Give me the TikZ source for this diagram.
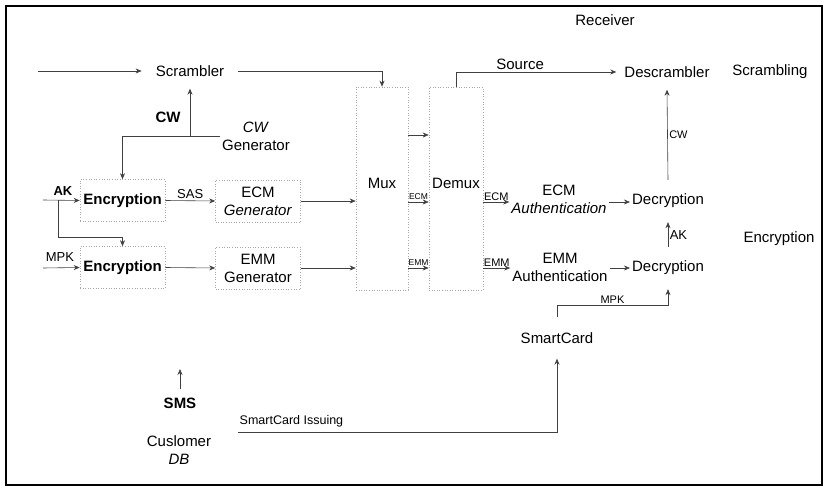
\documentclass[tikz,border=0pt]{standalone}
\usepackage{fontspec}
\setmainfont{Liberation Sans}
\usetikzlibrary{arrows.meta}

\tikzset{
  txt/.style={font=\fontsize{15}{18}\selectfont, align=center, inner sep=2pt},
  key/.style={font=\fontsize{11}{13}\selectfont, inner sep=1.5pt},
  tinykey/.style={font=\fontsize{8.5}{10}\selectfont, inner sep=0.5pt},
  blk/.style={txt, draw=black!35, dotted, line width=0.6pt, minimum width=85pt, minimum height=42pt},
  link/.style={draw=black!75, line width=0.6pt},
  arr/.style={link, ->},
}

\begin{document}
\begin{tikzpicture}[x=1pt, y=-1pt, >={Stealth[length=6pt,width=5pt]}]
  \useasboundingbox (0,0) rectangle (828,489);
  \draw[line width=1.1pt] (6,6) rectangle (822,485);

  % rows
  \coordinate (rowS) at (0,135);
  \coordinate (rowE) at (0,202);
  \coordinate (rowM) at (0,268);
  \coordinate (brow) at (0,237);
  \coordinate (mpkrow) at (0,305);

  % head end
  \node[txt, inner xsep=14pt, inner ysep=12pt] (scr) at (190,71) {Scrambler};
  \node[txt] (cwk) at (168,117) {\textbf{CW}};
  \node[txt] (cwg) at (256,136) {\textit{CW}\\Generator};
  \node[blk] (enc1) at (122.5,200.5) {\textbf{Encryption}};
  \node[blk] (enc2) at (122.5,267.5) {\textbf{Encryption}};
  \node[blk] (egen) at (258,201) {ECM\\\textit{Generator}};
  \node[blk] (mgen) at (258,268) {EMM\\Generator};
  \node[blk, minimum width=52pt, minimum height=203pt, text depth=10pt] (mux) at (382,188.5) {Mux};
  \node[blk, minimum width=54pt, minimum height=203pt, text depth=10pt] (dmx) at (456,188.5) {Demux};
  \node[key, font=\fontsize{13}{15}\selectfont] (akl) at (63,191) {\textbf{AK}};
  \node[key, font=\fontsize{13}{15}\selectfont] (mpkl) at (60,257) {MPK};

  % receiver
  \node[txt] (recv) at (605,20) {Receiver};
  \node[txt, inner xsep=8pt, inner ysep=12pt] (dscr) at (667,72) {Descrambler};
  \node[txt] (scrg) at (770,72) {Scrambling};
  \node[txt] (eauth) at (559,199) {ECM\\\textit{Authentication}};
  \node[txt] (mauth) at (560,267) {EMM\\Authentication};
  \node[txt, inner ysep=14pt] (dec1) at (668,201) {Decryption};
  \node[txt, inner ysep=14pt] (dec2) at (668,268) {Decryption};
  \node[txt] (encr) at (779,239) {Encryption};
  \node[txt, inner ysep=15pt] (card) at (557,338) {SmartCard};

  % management
  \node[txt, inner ysep=8pt] (sms) at (180,403) {\textbf{SMS}};
  \node[txt] (cdb) at (179,450) {Cuslomer\\\textit{DB}};
  \node[key, font=\fontsize{12.5}{14}\selectfont, anchor=south west] (isl) at (238,429) {SmartCard Issuing};

  \coordinate (srcin) at (38,71);
  \coordinate (akin) at (43,200);
  \coordinate (akj) at (58,200);
  \coordinate (mpkin) at (43,268);
  \coordinate (akr) at (668,247);
  \coordinate (smsout) at (180,369);
  \coordinate (issue) at (238,432);

  % scrambling path
  \draw[arr] (srcin) -- (scr.west);
  \draw[arr] (scr.east) -| (mux.north);
  \draw[arr] (cwg.west -| scr.south) -- (scr.south);
  \draw[arr] (cwg.west) -| (enc1.north);

  % key encryption
  \draw[arr] (akin) -- (enc1.west);
  \draw[arr] (akj) |- (enc2.north |- brow) -- (enc2.north);
  \draw[arr] (mpkin) -- (enc2.west);
  \draw[arr] (enc1.east) -- node[key, font=\fontsize{13}{15}\selectfont, above]{SAS} (egen.west);
  \draw[arr] (enc2.east) -- (mgen.west);
  \draw[arr] (egen.east) -- (egen.east -| mux.west);
  \draw[arr] (mgen.east) -- (mgen.east -| mux.west);

  % mux to demux
  \draw[arr] (mux.east |- rowS) -- (dmx.west |- rowS);
  \draw[arr] (mux.east |- rowE) -- node[tinykey, above=2pt]{ECM} (dmx.west |- rowE);
  \draw[arr] (mux.east |- rowM) -- node[tinykey, above=2pt]{EMM} (dmx.west |- rowM);

  % receiver side
  \draw[arr] (dmx.north) |- node[txt, pos=0.7, above]{Source} (dscr.west);
  \draw[arr] (dmx.east |- rowE) -- node[key, above]{ECM} (eauth.west |- rowE);
  \draw[arr] (dmx.east |- rowM) -- node[key, above]{EMM} (mauth.west |- rowM);
  \draw[arr] (eauth.east |- rowE) -- (dec1.west |- rowE);
  \draw[arr] (mauth.east |- rowM) -- (dec2.west);
  \draw[arr] (dec1.north) -- node[key, right]{CW} (dscr.south);
  \draw[arr] (akr) -- node[key, font=\fontsize{13}{15}\selectfont, right]{AK} (dec1.south);
  \draw[arr] (card.north) |- node[key, pos=0.75, above]{MPK} (dec2.south |- mpkrow) -- (dec2.south);

  % management
  \draw[arr] (sms.north) -- (smsout);
  \draw[arr] (issue) -| (card.south);
\end{tikzpicture}
\end{document}
